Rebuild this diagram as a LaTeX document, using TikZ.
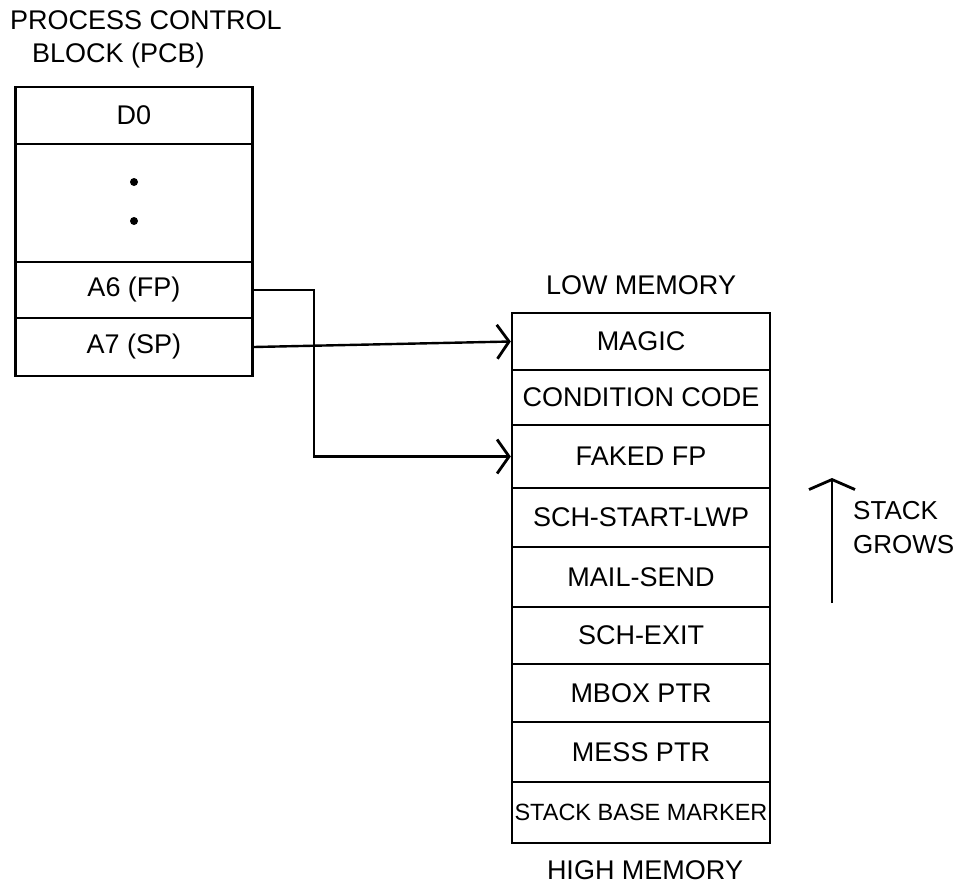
\documentclass[tikz,border=0pt]{standalone}
\usepackage{fontspec}
\setmainfont{Liberation Sans}
\usetikzlibrary{arrows.meta}
\begin{document}
\begin{tikzpicture}[x=1pt,y=-1pt,
  ln/.style={line width=2.4pt},
  pcbcell/.style={draw,ln,minimum width=237pt,inner sep=0pt,font=\fontsize{27}{30}\selectfont},
  stkcell/.style={draw,ln,minimum width=258pt,inner sep=0pt,font=\fontsize{27}{30}\selectfont},
  lbl/.style={font=\fontsize{27}{34}\selectfont,inner sep=0pt},
  barb/.style={-{Straight Barb[length=12pt,width=34pt,line width=2.8pt]}},
  dotmark/.style={circle,fill,inner sep=0pt,minimum size=8pt}
]
\useasboundingbox (0,0) rectangle (966,889);
% titles
\node[lbl,anchor=west] (t1) at (10,20) {PROCESS CONTROL};
\node[lbl,anchor=west] (t2) at (32,56) {BLOCK (PCB)};
% PCB
\node[pcbcell,minimum height=57pt] (d0) at (134,115.5) {D0};
\node[pcbcell,minimum height=118pt] (dots) at (134,203) {};
\node[dotmark] (dt1) at (134,182) {};
\node[dotmark] (dt2) at (134,221) {};
\node[pcbcell,minimum height=56pt] (a6) at (134,290) {A6 (FP)};
\node[pcbcell,minimum height=58pt] (a7) at (134,347) {A7 (SP)};
% stack
\node[lbl] (low) at (641,285) {LOW MEMORY};
\node[stkcell,minimum height=57pt] (m1) at (641,341.5) {MAGIC};
\node[stkcell,minimum height=55pt] (m2) at (641,397.5) {CONDITION CODE};
\node[stkcell,minimum height=63pt] (m3) at (641,456.5) {FAKED FP};
\node[stkcell,minimum height=59pt] (m4) at (641,517.5) {SCH-START-LWP};
\node[stkcell,minimum height=60pt] (m5) at (641,577) {MAIL-SEND};
\node[stkcell,minimum height=57pt] (m6) at (641,635.5) {SCH-EXIT};
\node[stkcell,minimum height=58pt] (m7) at (641,693) {MBOX PTR};
\node[stkcell,minimum height=60pt] (m8) at (641,752) {MESS PTR};
\node[stkcell,minimum height=61pt,font=\fontsize{23.5}{26}\selectfont] (m9) at (641,812.5) {STACK BASE MARKER};
\node[lbl] (high) at (645,870) {HIGH MEMORY};
% connectors
\coordinate (j) at (314,290);
\draw[ln,barb] (a7.east) -- (m1.west);
\draw[ln,barb] (a6.east) -- (j) |- (m3.west);
% stack grows
\coordinate (sg1) at (832,603);
\coordinate (sg2) at (832,478);
\draw[ln,-{Straight Barb[length=10pt,width=46pt,line width=2.8pt]}] (sg1) -- (sg2);
\node[lbl,align=left,anchor=west,font=\fontsize{26}{34}\selectfont] (sg) at (853,528) {STACK\\GROWS};
\end{tikzpicture}
\end{document}
